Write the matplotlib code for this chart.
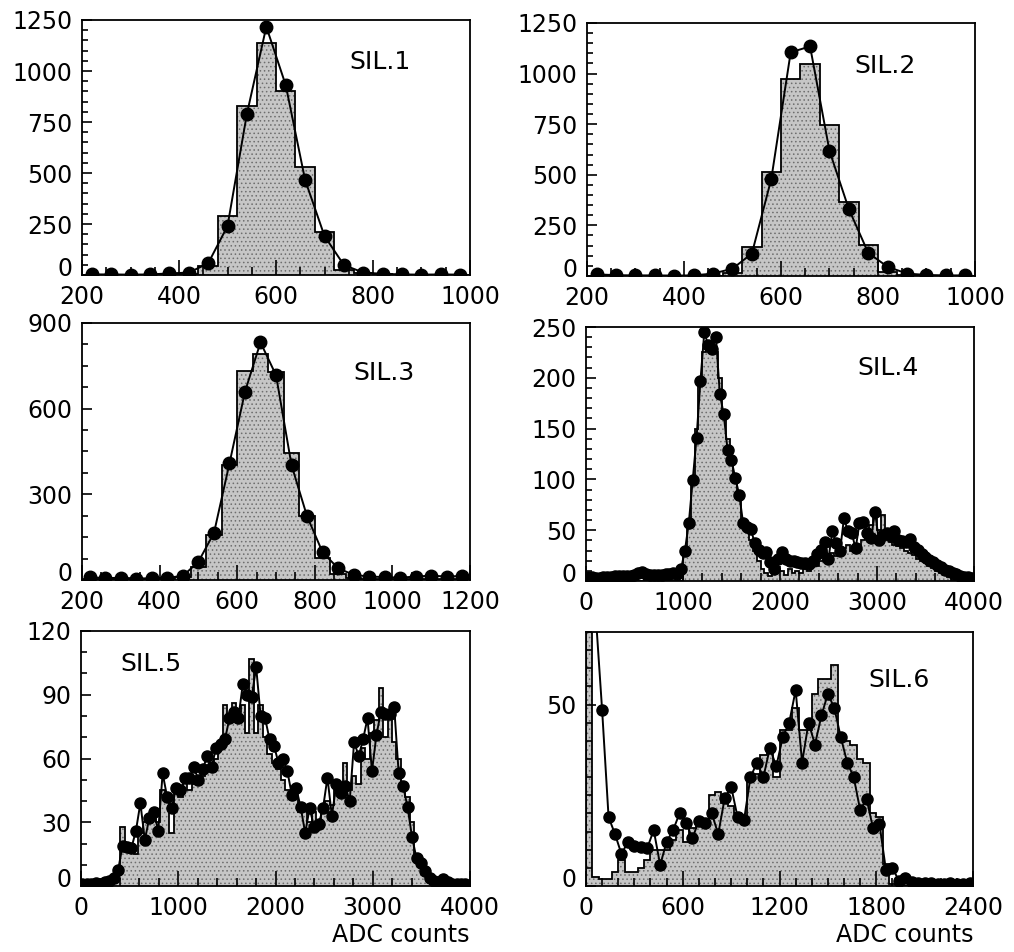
import numpy as np
import matplotlib
matplotlib.use("Agg")
import matplotlib.pyplot as plt
from matplotlib.ticker import MultipleLocator, FuncFormatter
from matplotlib.transforms import ScaledTranslation

plt.rcParams['font.family'] = ['DejaVu Sans']
plt.rcParams['hatch.linewidth'] = 0.6

# ---- SIL.1 ----
x1 = np.arange(220, 1000, 40)
pts1 = [3, 3, 2, 3, 8, 12, 57, 240, 790, 1217, 931, 466, 191, 49, 12, 6, 3, 2, 3, 2]
hist1 = [0, 0, 0, 0, 2, 4, 45, 290, 828, 1135, 903, 528, 209, 25, 8, 3, 2, 1, 1, 0]

# ---- SIL.2 ----
x2 = np.arange(220, 1000, 40)
pts2 = [8, 4, 3, 3, 2, 3, 12, 36, 111, 479, 1105, 1134, 618, 330, 114, 45, 12, 5, 3, 3]
hist2 = [0, 0, 0, 0, 0, 0, 0, 15, 144, 512, 974, 1049, 746, 367, 152, 20, 5, 2, 2, 2]

# ---- SIL.3 ----
x3 = np.arange(220, 1200, 40)
pts3 = [10, 6, 8, 5, 6, 8, 14, 64, 164, 408, 659, 832, 717, 402, 223, 97, 41, 18,
        12, 10, 8, 12, 15, 12, 14]
hist3 = [2, 2, 2, 2, 2, 2, 10, 45, 158, 402, 733, 791, 727, 443, 225, 76, 22, 8,
         5, 5, 5, 5, 5, 5, 5]

# ---- SIL.4 ----
x4 = np.arange(20, 4000, 40)
pts4 = [4, 4, 3, 3, 4, 4, 4, 5, 5, 5, 5, 5, 6, 8, 9, 7, 6, 6, 6, 6, 7, 7, 8, 7,
        12, 30, 57, 99, 141, 197, 245, 232, 228, 240, 184, 164, 129, 119, 101, 85,
        57, 53, 51, 37, 31, 28, 29, 19, 12, 22, 29, 22, 20, 20, 19, 18, 18, 17, 20, 27,
        31, 38, 22, 49, 37, 30, 62, 49, 47, 32, 57, 58, 47, 42, 68, 40, 45, 47, 44, 49,
        40, 39, 38, 41, 33, 31, 27, 24, 21, 19, 16, 14, 11, 10, 8, 7, 5, 4, 4, 3]
hist4 = [0] * 25 + [25, 55, 100, 150, 200, 225, 228, 232, 225, 200, 165, 140, 115, 100, 80,
                    60, 50, 40, 30, 20, 12, 8, 5, 8, 12, 10, 6, 12, 8, 10, 8, 12, 10, 15, 15,
                    20, 25, 22, 28, 25, 30, 32, 35, 30, 33, 35, 40, 45, 55, 65, 50, 65, 45, 38, 35,
                    34, 32, 30, 28, 26, 22, 20, 18, 15, 13, 10, 8, 6, 4, 1, 0, 0, 0, 0, 0]

# ---- SIL.5 ----
x5 = 15 + 45.8 * np.arange(87)
pts5 = [1, 1, 1, 1.5, 1, 2, 2.5,
        4, 7.5, 19, 18.5, 18, 26, 39, 21.6, 32, 35, 26, 53, 42, 36.5, 46, 45, 50.6, 51,
        56, 50, 55, 61, 56, 65, 67, 69, 79, 82, 79, 95, 90, 89, 103, 80, 79, 69, 66, 58,
        60, 54, 43, 46, 37, 25, 36.5, 28, 29, 36.5, 51, 33, 48, 44, 47, 40, 68, 61, 69, 79,
        54, 71, 82, 81, 81, 84, 53, 47, 37, 23, 13, 11, 7, 4,
        2.5, 2, 3.5, 2, 1, 1, 1, 1]
hist5 = [0, 0, 0, 0, 0, 0, 0,
         2, 8, 28, 20, 20, 15, 25, 30, 33, 35, 30, 45, 40, 25, 45, 42, 52, 45, 48, 50, 52,
         55, 58, 60, 65, 85, 80, 86, 82, 85, 72, 107, 72, 85, 70, 62, 58, 55, 50, 45, 45,
         42, 35, 38, 30, 35, 30, 35, 40, 38, 45, 42, 58, 45, 52, 48, 65, 60, 72, 78, 93,
         70, 80, 68, 60, 48, 42, 30, 15, 10, 5, 2,
         0, 0, 0, 0, 0, 0, 0, 0]

# ---- SIL.6 ----
x6 = np.arange(20, 2400, 40)
pts6 = [90, 75, 48.5, 19, 14.3, 8.8, 12.2, 11, 10.8, 10.5, 15.4, 5.8, 12.2, 15.4, 20,
        17.4, 13.2, 18, 17.4, 20, 14.3, 24.2, 27.4, 19, 18.2, 30, 34, 30, 38, 33, 41,
        45, 54, 34, 45, 39, 47, 53, 49, 41, 34, 30, 21, 24, 15.9, 17, 4.4, 5, 1.5, 2.1,
        1, 0.8, 0.8, 0.8, 0.6, 0.6, 0.8, 0.6, 0.6, 0.8]
hist6 = [75, 2.5, 1.9, 1.9, 3.9, 7.2, 3.9, 3.9, 5, 7.2, 9.9, 9.9, 9.9, 12.7, 15.4, 12,
         16, 17, 17, 25, 26, 23, 22, 20, 18, 30, 31, 36, 38, 30, 43, 43, 49, 43, 43, 53,
         57, 57, 61, 40, 40, 39, 35, 34, 20, 19, 6, 0.5, 0, 0, 0, 0, 0, 0, 0, 0, 0, 0, 0, 0]

panels = [
    dict(x=x1, pts=pts1, hist=hist1, xlim=(200, 1000), ylim=(0, 1250), xmaj=200, xmin=50,
         ymaj=250, ymin=50, label='SIL.1', lpos=(0.69, 0.835),
         rect=[0.0809, 0.7111, 0.3826, 0.2679], ms=9),
    dict(x=x2, pts=pts2, hist=hist2, xlim=(200, 1000), ylim=(0, 1250), xmaj=200, xmin=50,
         ymaj=250, ymin=50, label='SIL.2', lpos=(0.69, 0.83),
         rect=[0.5789, 0.7101, 0.3826, 0.2658], ms=9),
    dict(x=x3, pts=pts3, hist=hist3, xlim=(200, 1200), ylim=(0, 900), xmaj=200, xmin=50,
         ymaj=300, ymin=75, label='SIL.3', lpos=(0.70, 0.805),
         rect=[0.0809, 0.3908, 0.3826, 0.2700], ms=9),
    dict(x=x4, pts=pts4, hist=hist4, xlim=(0, 4000), ylim=(0, 250), xmaj=1000, xmin=200,
         ymaj=50, ymin=10, label='SIL.4', lpos=(0.70, 0.84),
         rect=[0.5779, 0.3897, 0.3826, 0.2668], ms=8),
    dict(x=x5, pts=pts5, hist=hist5, xlim=(0, 4000), ylim=(0, 120), xmaj=1000, xmin=200,
         ymaj=30, ymin=10, label='SIL.5', lpos=(0.10, 0.87),
         rect=[0.0799, 0.0693, 0.3836, 0.2679], ms=8),
    dict(x=x6, pts=pts6, hist=hist6, xlim=(0, 2400), ylim=(0, 70), xmaj=600, xmin=100,
         ymaj=50, ymin=5, label='SIL.6', lpos=(0.73, 0.81),
         rect=[0.5779, 0.0693, 0.3817, 0.2668], ms=8),
]

fig = plt.figure(figsize=(10.14, 9.52), dpi=100)

# y labels except zero; the zero is written separately a little higher
yfmt = FuncFormatter(lambda v, pos: '' if v == 0 else f'{v:g}')
zero_shift = ScaledTranslation(-7 / 72, 4.5 / 72, fig.dpi_scale_trans)

for i, p in enumerate(panels):
    ax = fig.add_axes(p['rect'])
    x = np.asarray(p['x'], dtype=float)
    half = (x[1] - x[0]) / 2
    edges = np.append(x - half, x[-1] + half)
    # stippled grey fill, then black outline
    ax.stairs(p['hist'], edges, fill=True, facecolor='#c6c6c6', edgecolor='#6e6e6e',
              hatch='....', lw=0)
    ax.stairs(p['hist'], edges, color='black', lw=1.3)
    ax.plot(x, p['pts'], '-o', color='black', lw=1.4, ms=p['ms'])
    ax.xaxis.set_major_locator(MultipleLocator(p['xmaj']))
    ax.xaxis.set_minor_locator(MultipleLocator(p['xmin']))
    ax.yaxis.set_major_locator(MultipleLocator(p['ymaj']))
    ax.yaxis.set_minor_locator(MultipleLocator(p['ymin']))
    ax.yaxis.set_major_formatter(yfmt)
    ax.tick_params(axis='both', which='both', direction='in', top=False, right=False,
                   labelsize=17, width=1.2)
    ax.tick_params(axis='x', which='major', length=11, pad=7.5)
    ax.tick_params(axis='x', which='minor', length=6)
    ax.tick_params(axis='y', which='major', length=7, pad=7)
    ax.tick_params(axis='y', which='minor', length=4.5)
    ax.text(0, 0, '0', transform=ax.transAxes + zero_shift, ha='right', va='center',
            fontsize=17)
    for s in ax.spines.values():
        s.set_linewidth(1.3)
    ax.text(p['lpos'][0], p['lpos'][1], p['label'], transform=ax.transAxes,
            fontsize=18, ha='left', va='center')
    if i >= 4:
        ax.text(1.0, -0.192, 'ADC counts', transform=ax.transAxes, fontsize=17,
                ha='right', va='center')
    ax.set_xlim(p['xlim'])
    ax.set_ylim(p['ylim'])

fig.savefig('out.png', dpi=100)
